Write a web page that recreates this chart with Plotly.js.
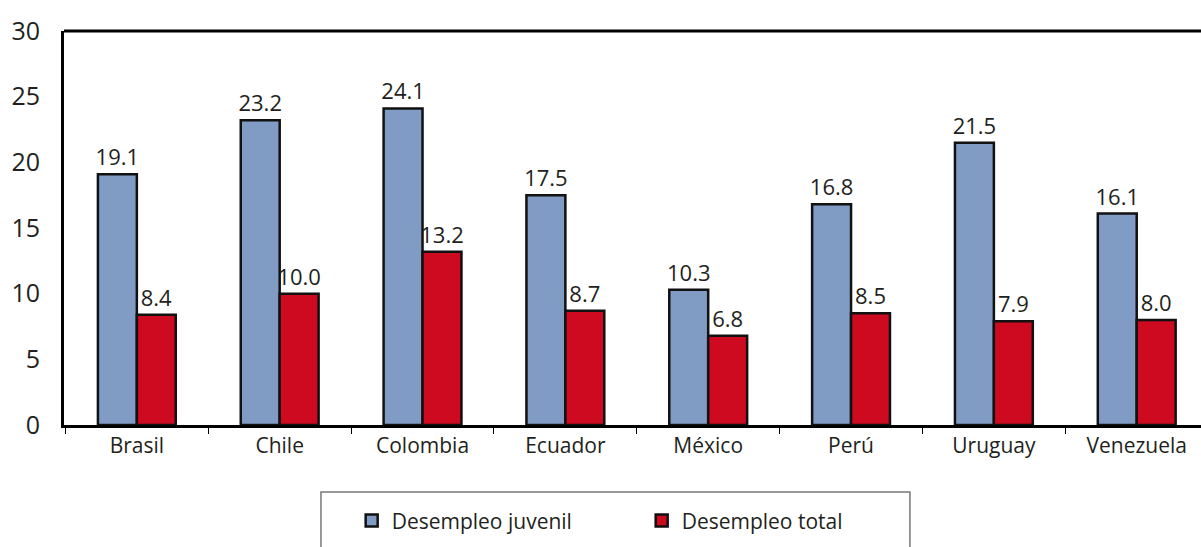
<!DOCTYPE html>
<html><head><meta charset="utf-8">
<script src="https://cdn.plot.ly/plotly-3.0.1.min.js"></script>
<style>html,body{margin:0;padding:0;background:#fff;}#chart{width:1201px;height:547px;}</style>
</head><body><div id="chart"></div>
<script>
const countries = ["Brasil","Chile","Colombia","Ecuador","México","Perú","Uruguay","Venezuela"];
const juvenil = [19.1,23.2,24.1,17.5,10.3,16.8,21.5,16.1];
const total = [8.4,10.0,13.2,8.7,6.8,8.5,7.9,8.0];
const yTicks = [0,5,10,15,20,25,30];

const FONT = "Open Sans, Noto Sans, sans-serif";
const txt = "#231f20";
const traces = [
  {type:"bar", name:"Desempleo juvenil", x:countries, y:juvenil,
   marker:{color:"#809cc5", line:{color:"#111", width:2.5}},
   text:juvenil.map(v=>v.toFixed(1)), textposition:"outside", cliponaxis:false, constraintext:"none",
   textfont:{size:22, color:txt, family:FONT}},
  {type:"bar", name:"Desempleo total", x:countries, y:total,
   marker:{color:"#cd0a1f", line:{color:"#111", width:2.5}},
   text:total.map(v=>v.toFixed(1)), textposition:"outside", cliponaxis:false, constraintext:"none",
   textfont:{size:22, color:txt, family:FONT}}
];
const layout = {
  width:1201, height:547,
  margin:{l:64, r:0, t:31, b:122},
  paper_bgcolor:"#fff", plot_bgcolor:"#fff",
  font:{family:FONT, color:txt},
  barmode:"group", bargap:0.455, bargroupgap:0,
  xaxis:{range:[-0.51,7.45], showline:true, linecolor:"#000", linewidth:3,
         ticks:"outside", ticklen:6, tickcolor:"#000", tickson:"boundaries",
         tickfont:{size:21, color:txt}, showgrid:false, zeroline:false, fixedrange:true},
  yaxis:{range:[0,30], tickvals:yTicks, showline:true, linecolor:"#000", linewidth:3,
         ticks:"", showgrid:false, zeroline:false, tickfont:{size:25, color:txt},
         ticklabelstandoff:16},
  shapes:[
    {type:"line", xref:"paper", yref:"paper", x0:0, x1:1, y0:1, y1:1, line:{color:"#000", width:3}},
    {type:"rect", xref:"paper", yref:"paper", x0:0.226, x1:0.744, y0:-0.170, y1:-0.40,
     line:{color:"#777", width:1.5}, fillcolor:"rgba(0,0,0,0)"}
  ],
  showlegend:true,
  legend:{orientation:"h", x:0.253, xanchor:"left", y:-0.243, yanchor:"middle",
          entrywidth:245, entrywidthmode:"pixels",
          font:{size:21, color:txt}, bgcolor:"rgba(0,0,0,0)", traceorder:"normal"}
};
Plotly.newPlot("chart", traces, layout, {displayModeBar:false, staticPlot:true});
</script></body></html>
